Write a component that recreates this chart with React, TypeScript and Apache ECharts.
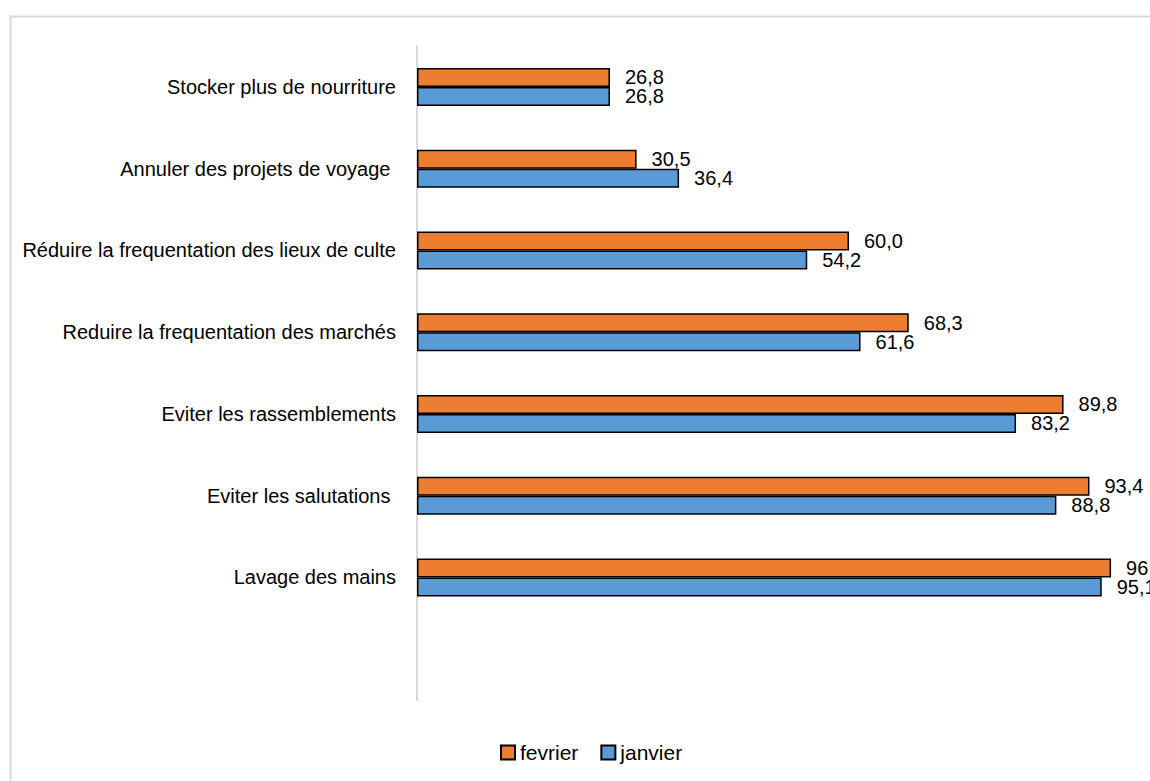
import React, { useEffect, useRef } from "react";
import * as echarts from "echarts";

const categories = [
  "Stocker plus de nourriture",
  "Annuler des projets de voyage ",
  "Réduire la frequentation des lieux de culte",
  "Reduire la frequentation des marchés",
  "Eviter les rassemblements",
  "Eviter les salutations ",
  "Lavage des mains",
  "",
];
const fevrier = [26.8, 30.5, 60.0, 68.3, 89.8, 93.4, 96.4, null];
const janvier = [26.8, 36.4, 54.2, 61.6, 83.2, 88.8, 95.1, null];
const seriesNames = ["fevrier", "janvier"];

const FONT = "'Liberation Sans', Arial, sans-serif";

export default function App() {
  const ref = useRef<HTMLDivElement>(null);
  useEffect(() => {
    const chart = echarts.init(ref.current!, undefined, { renderer: "svg" });
    const fmt = (p: any) => (p.value == null ? "" : Number(p.value).toFixed(1).replace(".", ","));
    const mkSeries = (name: string, data: any[], color: string) => ({
      name,
      type: "bar",
      data,
      barWidth: 19,
      barGap: "0%",
      itemStyle: { color, borderColor: "#000", borderWidth: 1.5 },
      label: {
        show: true,
        position: "right",
        distance: 15,
        formatter: fmt,
        color: "#000",
        fontFamily: FONT,
        fontSize: 20,
      },
    });
    chart.setOption({
      animation: false,
      backgroundColor: "#fff",
      graphic: [
        {
          type: "rect",
          shape: { x: 10.5, y: 16.5, width: 1200, height: 800 },
          style: { fill: "none", stroke: "#d9d9d9", lineWidth: 2 },
          silent: true,
        },
      ],
      grid: { left: 417, top: 46, bottom: 81, width: 720, containLabel: false },
      legend: {
        data: seriesNames,
        left: 495,
        top: 737,
        itemWidth: 14,
        itemHeight: 14,
        itemGap: 22,
        icon: "rect",
        textStyle: { fontFamily: FONT, fontSize: 21, color: "#000" },
      },
      xAxis: {
        type: "value",
        min: 0,
        max: 100,
        show: false,
        splitLine: { show: false },
      },
      yAxis: {
        type: "category",
        data: categories,
        inverse: true,
        axisLine: { show: true, lineStyle: { color: "#d9d9d9", width: 2 } },
        axisTick: { show: false },
        axisLabel: {
          margin: 21,
          color: "#000",
          fontFamily: FONT,
          fontSize: 20,
        },
      },
      series: [
        mkSeries(seriesNames[0], fevrier, "#ED7D31"),
        mkSeries(seriesNames[1], janvier, "#5B9BD5"),
      ],
    });
    return () => chart.dispose();
  }, []);
  return (
    <div
      ref={ref}
      style={{ position: "fixed", left: 0, top: 0, width: 1150, height: 781 }}
    />
  );
}
